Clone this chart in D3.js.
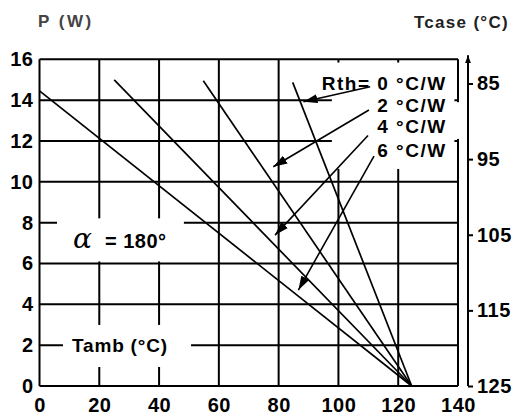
<!DOCTYPE html>
<html>
<head>
<meta charset="utf-8">
<script src="https://cdn.jsdelivr.net/npm/d3@7"></script>
<style>
  body { margin: 0; background: #fff; }
  svg { display: block; font-family: "Liberation Sans", Arial, sans-serif; }
  .lbl { font-weight: bold; fill: #000; }
</style>
</head>
<body>
<svg width="516" height="419"></svg>
<script>
// ---- data ----
const tempTicks = [0, 20, 40, 60, 80, 100, 120, 140];
const powerTicks = [0, 2, 4, 6, 8, 10, 12, 14, 16];
const tcaseTicks = [85, 95, 105, 115, 125];

// derating lines: each runs from a start point to the common end point
const rthLabels = ["Rth= 0 °C/W", "2 °C/W", "4 °C/W", "6 °C/W"];
const lineStartT = [84.7, 54.8, 25.0, 0];
const lineStartP = [14.87, 14.95, 14.99, 14.45];
const lineEndT = 124.5;
const lineEndP = 0;

// pointer arrows from each label to its line
const arrowFromT = [110.6, 110.2, 109.9, 111.9];
const arrowFromP = [14.66, 13.52, 12.27, 11.26];
const arrowToT = [88.3, 78.2, 78.8, 86.6];
const arrowToP = [13.92, 10.74, 7.39, 4.70];
const labelP = [14.52, 13.42, 12.39, 11.21];

// ---- layout ----
const margin = { left: 39.5, top: 59.3, right: 58, bottom: 33 };
const width = 458 - margin.left;
const height = 386 - margin.top;

const svg = d3.select("svg");
const g = svg.append("g").attr("transform", `translate(${margin.left},${margin.top})`);

const x = d3.scaleLinear().domain([0, 140]).range([0, width]);
const y = d3.scaleLinear().domain([0, 16]).range([height, 0]);
const yCase = d3.scaleLinear().domain([125, 81.8]).range([height, 0]);

// grid
const grid = g.append("g").attr("stroke", "#000").attr("stroke-width", 2);
grid.selectAll(".v").data(tempTicks).join("line")
    .attr("x1", d => x(d)).attr("x2", d => x(d))
    .attr("y1", y(0)).attr("y2", y(16));
grid.selectAll(".h").data(powerTicks).join("line")
    .attr("x1", x(0)).attr("x2", x(140))
    .attr("y1", d => y(d)).attr("y2", d => y(d));

// white boxes behind the labels (break the grid)
const boxes = [
    [97.8, 138.8, 15.84, 10.63],
    [138.8, 141.5, 13.9, 12.1],
    [5.85, 48.3, 8.21, 6.1],
    [7.85, 50.7, 2.99, 0.93]
];
g.selectAll(".mask").data(boxes).join("rect")
    .attr("fill", "#fff")
    .attr("x", d => x(d[0])).attr("width", d => x(d[1]) - x(d[0]))
    .attr("y", d => y(d[2])).attr("height", d => y(d[3]) - y(d[2]));

// derating lines
g.selectAll(".curve").data(rthLabels).join("line")
    .attr("stroke", "#000").attr("stroke-width", 1.7)
    .attr("x1", (d, i) => x(lineStartT[i])).attr("y1", (d, i) => y(lineStartP[i]))
    .attr("x2", x(lineEndT)).attr("y2", y(lineEndP));

// arrow marker
const defs = svg.append("defs");
defs.append("marker")
    .attr("id", "head")
    .attr("markerUnits", "userSpaceOnUse")
    .attr("markerWidth", 16).attr("markerHeight", 12)
    .attr("viewBox", "0 -6 16 12")
    .attr("refX", 14).attr("refY", 0)
    .attr("orient", "auto")
    .append("path").attr("d", "M0,-4.5L14,0L0,4.5Z").attr("fill", "#000");
defs.append("marker")
    .attr("id", "axisHead")
    .attr("markerUnits", "userSpaceOnUse")
    .attr("markerWidth", 10).attr("markerHeight", 10)
    .attr("viewBox", "0 -5 10 10")
    .attr("refX", 8).attr("refY", 0)
    .attr("orient", "auto")
    .append("path").attr("d", "M0,-3L8,0L0,3Z").attr("fill", "#000");

g.selectAll(".arrow").data(rthLabels).join("line")
    .attr("stroke", "#000").attr("stroke-width", 1.6)
    .attr("marker-end", "url(#head)")
    .attr("x1", (d, i) => x(arrowFromT[i])).attr("y1", (d, i) => y(arrowFromP[i]))
    .attr("x2", (d, i) => x(arrowToT[i])).attr("y2", (d, i) => y(arrowToP[i]));

g.selectAll(".rth").data(rthLabels).join("text")
    .attr("class", "lbl")
    .attr("x", x(135.7) + 1.5)
    .attr("y", (d, i) => y(labelP[i]))
    .attr("text-anchor", "end")
    .style("font-size", "19px")
    .style("letter-spacing", "1.5px")
    .text(d => d);

// axes
const tickFont = g => g.selectAll("text")
    .attr("class", "lbl").style("font-size", "20px").style("letter-spacing", "0.5px");

g.append("g")
    .call(d3.axisLeft(y).tickValues(powerTicks).tickSize(0).tickPadding(6))
    .call(a => a.select(".domain").remove())
    .call(tickFont);

g.append("g")
    .attr("transform", `translate(0,${height})`)
    .call(d3.axisBottom(x).tickValues(tempTicks).tickSize(0).tickPadding(12))
    .call(a => a.select(".domain").remove())
    .call(tickFont);

const axisX = width + 10;
g.append("line")
    .attr("stroke", "#000").attr("stroke-width", 2)
    .attr("x1", axisX).attr("x2", axisX)
    .attr("y1", yCase(125)).attr("y2", -4)
    .attr("marker-end", "url(#axisHead)");
g.append("g")
    .attr("transform", `translate(${axisX},0)`)
    .call(d3.axisRight(yCase).tickValues(tcaseTicks).tickSize(5).tickPadding(4))
    .call(a => a.select(".domain").remove())
    .call(a => a.selectAll("line").attr("stroke-width", 2))
    .call(tickFont);

// labels inside the plot
const alpha = g.append("text").attr("class", "lbl")
    .attr("x", x(11.2)).attr("y", y(6.76));
alpha.append("tspan")
    .style("font-family", "'DejaVu Serif', serif")
    .style("font-style", "italic")
    .style("font-size", "28px")
    .style("font-weight", "normal")
    .text("α");
alpha.append("tspan")
    .attr("x", x(21.9))
    .style("font-size", "20px")
    .style("letter-spacing", "0.5px")
    .text("= 180°");

g.append("text").attr("class", "lbl")
    .attr("x", x(10.9)).attr("y", y(1.665))
    .style("font-size", "19px")
    .style("letter-spacing", "0.8px")
    .text("Tamb (°C)");

// axis titles
svg.append("text").attr("class", "lbl")
    .attr("x", 38).attr("y", 27)
    .style("font-size", "17px")
    .style("letter-spacing", "2.5px")
    .style("fill", "#444")
    .text("P (W)");

svg.append("text").attr("class", "lbl")
    .attr("x", 509).attr("y", 28)
    .attr("text-anchor", "end")
    .style("font-size", "17px")
    .style("letter-spacing", "1.3px")
    .style("fill", "#222")
    .text("Tcase (°C)");
</script>
</body>
</html>
